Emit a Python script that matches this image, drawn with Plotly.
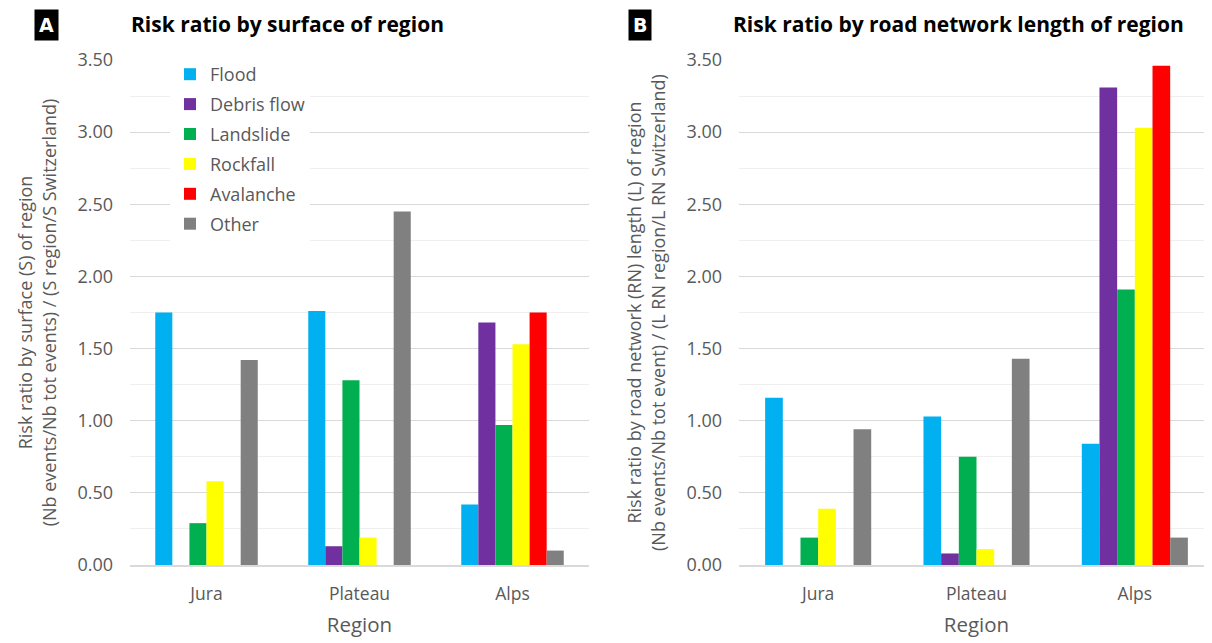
import plotly.graph_objects as go
from plotly.subplots import make_subplots

regions = ["Jura", "Plateau", "Alps"]
series = ["Flood", "Debris flow", "Landslide", "Rockfall", "Avalanche", "Other"]
colors = ["#00B0F0", "#7030A0", "#00B050", "#FFFF00", "#FF0000", "#808080"]

# Panel A: risk ratio by surface
surface_flood = [1.75, 1.76, 0.42]
surface_debris = [0.0, 0.13, 1.68]
surface_landslide = [0.29, 1.28, 0.97]
surface_rockfall = [0.58, 0.19, 1.53]
surface_avalanche = [0.0, 0.0, 1.75]
surface_other = [1.42, 2.45, 0.10]

# Panel B: risk ratio by road network length
road_flood = [1.16, 1.03, 0.84]
road_debris = [0.0, 0.08, 3.31]
road_landslide = [0.19, 0.75, 1.91]
road_rockfall = [0.39, 0.11, 3.03]
road_avalanche = [0.0, 0.0, 3.46]
road_other = [0.94, 1.43, 0.19]

y_ticks = [0.0, 0.5, 1.0, 1.5, 2.0, 2.5, 3.0, 3.5]

surface = [surface_flood, surface_debris, surface_landslide, surface_rockfall, surface_avalanche, surface_other]
road = [road_flood, road_debris, road_landslide, road_rockfall, road_avalanche, road_other]

FONT = "Open Sans"
GREY = "#595959"
W, H = 1212, 643
OFF = 8  # page offset of the rendered figure
PLOT_TOP, PLOT_BOTTOM = 60, 565
PH = PLOT_BOTTOM - PLOT_TOP


def px_x(p):
    return (p - OFF) / W


fig = make_subplots(rows=1, cols=2)
for i, name in enumerate(series):
    fig.add_trace(go.Bar(x=regions, y=surface[i], name=name, marker_color=colors[i],
                         marker_line_width=0, legendgroup=name, showlegend=True), row=1, col=1)
    fig.add_trace(go.Bar(x=regions, y=road[i], name=name, marker_color=colors[i],
                         marker_line_width=0, legendgroup=name, showlegend=False), row=1, col=2)

fig.update_layout(
    width=W, height=H,
    margin=dict(l=0, r=0, t=PLOT_TOP - OFF, b=H - (PLOT_BOTTOM - OFF)),
    paper_bgcolor="white", plot_bgcolor="white",
    barmode="group", bargap=0.33, bargroupgap=0,
    font=dict(family=FONT, size=16, color=GREY),
    legend=dict(x=px_x(170), y=1 + 4 / PH, xanchor="left", yanchor="top",
                bgcolor="white", font=dict(size=18, color=GREY),
                tracegroupgap=3.5, itemwidth=30),
)

fig.update_layout(
    xaxis=dict(domain=[px_x(130), px_x(589)]),
    xaxis2=dict(domain=[px_x(739), min(1.0, px_x(1214))]),
)

for ax in ["xaxis", "xaxis2"]:
    fig.layout[ax].update(showline=True, linecolor="#D9D9D9", linewidth=1.5, ticks="",
                          tickfont=dict(size=17.5, color=GREY), ticklabelstandoff=12,
                          title=dict(text="Region", font=dict(size=20.5, color=GREY), standoff=14))

ytitles = [
    "Risk ratio by surface (S) of region<br>(Nb events/Nb tot events) / (S region/S Switzerland)",
    "Risk ratio by road network (RN) length (L) of region<br>(Nb events/Nb tot event) / (L RN region/L RN Switzerland)",
]
for ax, t in zip(["yaxis", "yaxis2"], ytitles):
    fig.layout[ax].update(range=[0, 3.5], tickvals=y_ticks, tickformat=".2f",
                          showgrid=True, gridcolor="#D9D9D9", gridwidth=1.2,
                          zeroline=False, showline=False, ticks="",
                          tickfont=dict(size=18, color=GREY), ticklabelstandoff=16,
                          minor=dict(dtick=0.25, showgrid=True, gridcolor="#EFEFEF", gridwidth=1),
                          title=dict(text=t, font=dict(size=18, color=GREY), standoff=16))

fig.add_annotation(text="<b>Risk ratio by surface of region</b>", xref="paper", yref="paper",
                   x=px_x(129), y=1 + 36 / PH, xanchor="left", yanchor="middle", showarrow=False,
                   font=dict(size=21, color="black", family=FONT))
fig.add_annotation(text="<b>Risk ratio by road network length of region</b>", xref="paper", yref="paper",
                   x=px_x(731), y=1 + 36 / PH, xanchor="left", yanchor="middle", showarrow=False,
                   font=dict(size=21, color="black", family=FONT))
for letter, px in [("A", 46), ("B", 640)]:
    fig.add_annotation(text="<b>" + letter + "</b>", xref="paper", yref="paper",
                       x=px_x(px), y=1 + 35 / PH, xanchor="center", yanchor="middle", showarrow=False,
                       bgcolor="black", font=dict(size=19, color="white", family="DejaVu Sans"),
                       borderpad=4)

fig.write_html("out.html")
